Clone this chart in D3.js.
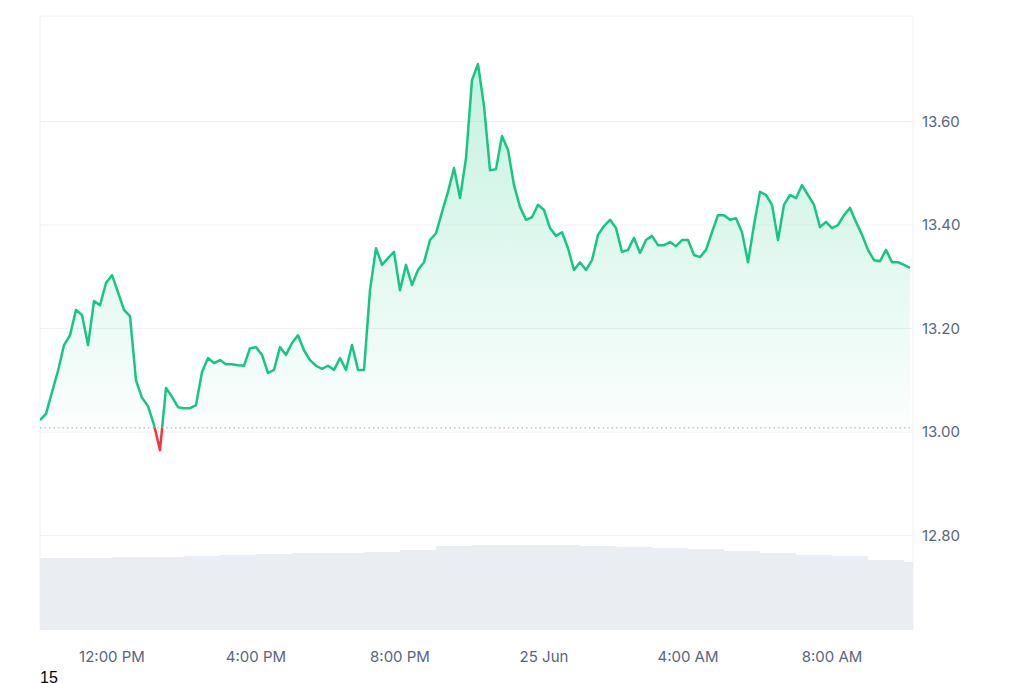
<!DOCTYPE html>
<html>
<head>
<meta charset="utf-8">
<script src="https://cdn.jsdelivr.net/npm/d3@7"></script>
<style>
  body { margin: 0; background: #fff; }
  svg text { font-family: Inter, "Noto Sans", sans-serif; }
</style>
</head>
<body>
<svg id="chart" width="1024" height="683"></svg>
<script>
// price every 10 minutes from 24 Jun 10:00 AM
const startTime = new Date(2024, 5, 24, 10, 0)
const prices = [
  13.023, 13.035, 13.077, 13.118, 13.168, 13.187, 13.236, 13.226, 13.168, 13.253,
  13.245, 13.288, 13.303, 13.270, 13.236, 13.224, 13.100, 13.066, 13.050, 13.014,
  12.965, 13.085, 13.068, 13.048, 13.046, 13.046, 13.052, 13.116, 13.143, 13.133,
  13.139, 13.131, 13.131, 13.129, 13.128, 13.162, 13.164, 13.149, 13.114, 13.120,
  13.164, 13.149, 13.172, 13.187, 13.158, 13.139, 13.128, 13.122, 13.128, 13.120,
  13.143, 13.120, 13.168, 13.120, 13.120, 13.274, 13.355, 13.323, 13.336, 13.348,
  13.274, 13.323, 13.284, 13.313, 13.328, 13.371, 13.384, 13.425, 13.464, 13.510,
  13.452, 13.529, 13.680, 13.711, 13.630, 13.506, 13.508, 13.572, 13.545, 13.477,
  13.435, 13.410, 13.415, 13.439, 13.429, 13.394, 13.379, 13.386, 13.355, 13.313,
  13.328, 13.313, 13.332, 13.381, 13.398, 13.410, 13.394, 13.348, 13.352, 13.375,
  13.346, 13.371, 13.379, 13.361, 13.361, 13.367, 13.359, 13.371, 13.371, 13.342,
  13.338, 13.352, 13.386, 13.419, 13.419, 13.410, 13.413, 13.386, 13.328, 13.400,
  13.464, 13.458, 13.439, 13.371, 13.439, 13.458, 13.452, 13.477, 13.458, 13.439,
  13.396, 13.406, 13.394, 13.400, 13.419, 13.433, 13.406, 13.381, 13.352, 13.332,
  13.330, 13.352, 13.328, 13.328, 13.323, 13.317
]
const baseline = 13.008
// hourly 24h volume (relative units)
const volumes = [72, 72, 73, 73, 74, 75, 76, 77, 77, 78, 80, 84, 85, 85, 85, 84, 83, 82, 81, 79, 77, 75, 74, 70, 68]
const yTicks = [12.8, 13.0, 13.2, 13.4, 13.6]
const xTicks = [
  new Date(2024, 5, 24, 12), new Date(2024, 5, 24, 16), new Date(2024, 5, 24, 20),
  new Date(2024, 5, 25, 0), new Date(2024, 5, 25, 4), new Date(2024, 5, 25, 8)
]

const data = prices.map((p, i) => ({ t: new Date(+startTime + i * 600000), p }))
const endTime = new Date(+startTime + 24.25 * 3600000)

const svg = d3.select('#chart')
const mLeft = 40, mRight = 913, mTop = 16, mBottom = 630

const x = d3.scaleTime().domain([startTime, endTime]).range([mLeft, mRight])
const y = d3.scaleLinear().domain([13.0, 13.2]).range([432, 328.5])
const yVol = d3.scaleLinear().domain([0, 100]).range([mBottom, mBottom - 100])

// frame + grid
svg.append('g').selectAll('line').data(yTicks).join('line')
  .attr('x1', mLeft).attr('x2', mRight)
  .attr('y1', d => y(d)).attr('y2', d => y(d))
  .attr('stroke', '#eff2f5')
svg.append('path')
  .attr('d', `M${mLeft},${mBottom}V${mTop}H${mRight}V${mBottom}`)
  .attr('fill', 'none').attr('stroke', '#eff2f5')

// volume
const hourMs = 3600000
svg.append('g').selectAll('rect').data(volumes).join('rect')
  .attr('x', (d, i) => x(new Date(+startTime + i * hourMs)))
  .attr('width', (d, i) => Math.max(0, Math.min(mRight, x(new Date(+startTime + (i + 1) * hourMs))) - x(new Date(+startTime + i * hourMs))))
  .attr('y', d => yVol(d))
  .attr('height', d => mBottom - yVol(d))
  .attr('fill', '#eaeef2')

// gradient area
const defs = svg.append('defs')
const grad = defs.append('linearGradient').attr('id', 'g').attr('x1', 0).attr('x2', 0).attr('y1', 0).attr('y2', 1)
grad.append('stop').attr('offset', '0%').attr('stop-color', '#16c784').attr('stop-opacity', 0.25)
grad.append('stop').attr('offset', '100%').attr('stop-color', '#16c784').attr('stop-opacity', 0)
const yb = y(baseline)
defs.append('clipPath').attr('id', 'above').append('rect')
  .attr('x', mLeft).attr('y', 0).attr('width', mRight - mLeft).attr('height', yb)
defs.append('clipPath').attr('id', 'below').append('rect')
  .attr('x', mLeft).attr('y', yb).attr('width', mRight - mLeft).attr('height', 683 - yb)

svg.append('path').datum(data)
  .attr('clip-path', 'url(#above)')
  .attr('fill', 'url(#g)')
  .attr('d', d3.area().x(d => x(d.t)).y0(yb).y1(d => y(d.p)))

svg.append('line')
  .attr('x1', mLeft).attr('x2', mRight).attr('y1', yb).attr('y2', yb)
  .attr('stroke', '#9aa3ad').attr('stroke-dasharray', '1.5,3')

const line = d3.line().x(d => x(d.t)).y(d => y(d.p))
svg.append('path').datum(data).attr('clip-path', 'url(#above)')
  .attr('fill', 'none').attr('stroke', '#16c784').attr('stroke-width', 2.5)
  .attr('stroke-linejoin', 'round').attr('d', line)
svg.append('path').datum(data).attr('clip-path', 'url(#below)')
  .attr('fill', 'none').attr('stroke', '#ea3943').attr('stroke-width', 2.5)
  .attr('stroke-linejoin', 'round').attr('d', line)

// axes
svg.append('g').selectAll('text').data(yTicks).join('text')
  .attr('x', 922).attr('y', d => y(d) + 5)
  .attr('font-size', 15).attr('fill', '#58667e')
  .text(d => d3.format('.2f')(d))

const fmt = d => d.getHours() === 0 ? '25 Jun' : d3.timeFormat('%-I:%M %p')(d)
svg.append('g').selectAll('text').data(xTicks).join('text')
  .attr('x', d => x(d)).attr('y', 662).attr('text-anchor', 'middle')
  .attr('font-size', 15).attr('fill', '#58667e')
  .text(fmt)

svg.append('text').attr('x', 40).attr('y', 683).attr('font-size', 16)
  .attr('fill', '#000').style('font-family', '"Liberation Sans", sans-serif').text('15')
</script>
</body>
</html>
